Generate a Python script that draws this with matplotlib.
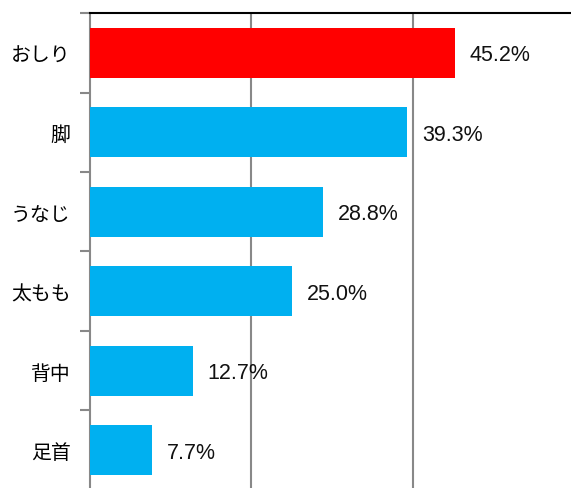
import matplotlib.pyplot as plt
import numpy as np

categories = ['おしり', '脚', 'うなじ', '太もも', '背中', '足首']
values = [45.2, 39.3, 28.8, 25.0, 12.7, 7.7]
colors = ['#FF0000', '#00B0F0', '#00B0F0', '#00B0F0', '#00B0F0', '#00B0F0']

plt.rcParams['font.family'] = ['Liberation Sans', 'Noto Sans CJK JP']

fig = plt.figure(figsize=(5.71, 4.89), dpi=100)
W, H = 571, 489
left, right, top, bottom = 90, 574.5, 14, 491
ax = fig.add_axes([left / W, 1 - bottom / H, (right - left) / W, (bottom - top) / H])

y = np.arange(len(categories))
ax.barh(y, values, height=0.63, color=colors, zorder=3)
ax.set_xlim(0, 60)
ax.set_ylim(len(categories) - 0.5, -0.5)

ax.set_xticks([20, 40])
ax.xaxis.grid(True, color='#888888', linewidth=1.5, zorder=0)
ax.tick_params(axis='x', length=0, labelbottom=False)

ax.set_yticks(y)
ax.set_yticklabels(categories, fontsize=14.3, family=['Noto Sans CJK JP'])
ax.tick_params(axis='y', which='major', length=0, pad=14)
ax.set_yticks(np.arange(-0.5, len(categories)), minor=True)
ax.tick_params(axis='y', which='minor', length=7, width=1.5, color='#888888')

for s in ['right', 'bottom']:
    ax.spines[s].set_visible(False)
ax.spines['left'].set_color('#888888')
ax.spines['left'].set_linewidth(1.5)
ax.spines['top'].set_color('#000000')
ax.spines['top'].set_linewidth(1.5)

for yi, v in zip(y, values):
    ax.annotate(f'{v:.1f}%', (v, yi), xytext=(15, -2), textcoords='offset pixels',
                va='center', ha='left', fontsize=15.5, color='#111111')

fig.savefig('out.png', dpi=100)
